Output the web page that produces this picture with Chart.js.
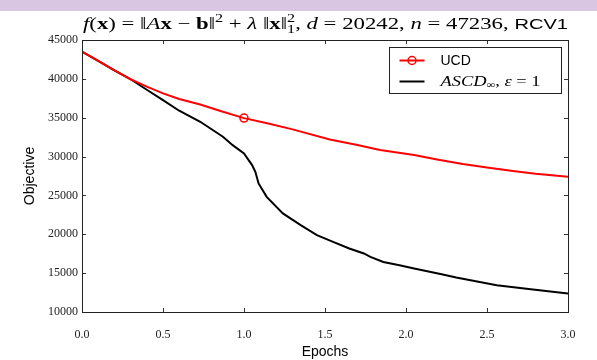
<!DOCTYPE html>
<html>
<head>
<meta charset="utf-8">
<script src="https://cdn.jsdelivr.net/npm/chart.js@4.4.1/dist/chart.umd.min.js"></script>
<style>
  html, body { margin: 0; padding: 0; background: #fff; }
  #wrap { width: 597px; height: 360px; position: relative; }
</style>
</head>
<body>
<div id="wrap"><canvas id="chart"></canvas></div>
<script>
'use strict';

// UCD run
const ucdEpochs = [0, 0.1, 0.2, 0.3, 0.4, 0.5, 0.6, 0.73, 0.85, 1.0, 1.15, 1.3, 1.53, 1.7, 1.84,
    2.05, 2.2, 2.35, 2.5, 2.66, 2.8, 3.0];
const ucdObjective = [43500, 42300, 41100, 39950, 39000, 38130, 37400, 36700, 35900, 34950, 34250,
    33500, 32200, 31500, 30850, 30200, 29600, 29050, 28600, 28150, 27800, 27400];
const ucdMarkerEpoch = 1.0;

// ASCD run
const ascdEpochs = [0, 0.1, 0.2, 0.3, 0.4, 0.5, 0.6, 0.73, 0.87, 0.93, 1.0, 1.05, 1.07, 1.09, 1.14,
    1.24, 1.35, 1.45, 1.55, 1.65, 1.74, 1.78, 1.86, 1.96, 2.05, 2.22, 2.31, 2.56, 2.77, 3.0];
const ascdObjective = [43500, 42300, 41100, 39950, 38600, 37270, 35900, 34480, 32550, 31470, 30400,
    28900, 28040, 26540, 24820, 22680, 21170, 19880, 19020, 18170, 17530, 17090, 16440, 16020,
    15600, 14860, 14430, 13440, 12930, 12370];

const xTicks = [0, 0.5, 1.0, 1.5, 2.0, 2.5, 3.0];
const yTicks = [10000, 15000, 20000, 25000, 30000, 35000, 40000, 45000];

function serif(style, size) {
    return style + ' ' + size + 'px "Liberation Serif", "DejaVu Serif", serif';
}

function title_segments(size) {
    const rm = serif('', size), it = serif('italic', size), bf = serif('bold', size);
    const sm = serif('', Math.round(size * 0.7));
    const up = -size * 0.42, down = size * 0.25;
    return [
        {t: 'f', font: it}, {t: '(', font: rm}, {t: 'x', font: bf}, {t: ') = \u2016', font: rm},
        {t: 'A', font: it}, {t: 'x', font: bf}, {t: ' \u2212 ', font: rm}, {t: 'b', font: bf},
        {t: '\u2016', font: rm}, {t: '2', font: sm, dy: up}, {t: ' + ', font: rm},
        {t: '\u03bb', font: it}, {t: ' \u2016', font: rm}, {t: 'x', font: bf}, {t: '\u2016', font: rm},
        {stack: [{t: '2', font: sm, dy: up}, {t: '1', font: sm, dy: down}]},
        {t: ', ', font: rm}, {t: 'd', font: it}, {t: ' = 20242, ', font: rm},
        {t: 'n', font: it}, {t: ' = 47236, ', font: rm},
        {t: 'RCV1', font: (size - 2) + 'px "Liberation Sans", Arial, sans-serif'},
    ];
}

function legend_segments(i) {
    if (i === 0) {
        return [{t: 'UCD', font: '14px "Liberation Sans", Arial, sans-serif'}];
    }
    return [
        {t: 'ASCD', font: serif('italic', 15)}, {t: '\u221e', font: serif('', 10), dy: 3},
        {t: ', ', font: serif('', 15)}, {t: '\u03b5', font: serif('italic', 15)},
        {t: ' = 1', font: serif('', 15)},
    ];
}

function seg_width(ctx, s) {
    if (s.stack) {
        return Math.max(...s.stack.map((p) => seg_width(ctx, p)));
    }
    ctx.font = s.font;
    return ctx.measureText(s.t).width;
}

function rich_width(ctx, segs) {
    return segs.reduce((w, s) => w + seg_width(ctx, s), 0);
}

// draws segments starting at x, stretched horizontally to the given width
function draw_rich(ctx, segs, x, y, width) {
    const natural = rich_width(ctx, segs);
    const sx = width ? width / natural : 1;
    ctx.save();
    ctx.translate(x, y);
    ctx.scale(sx, 1);
    let cx = 0;
    segs.forEach((s) => {
        const parts = s.stack ? s.stack : [s];
        parts.forEach((p) => {
            ctx.font = p.font;
            ctx.fillText(p.t, cx, p.dy || 0);
        });
        cx += seg_width(ctx, s);
    });
    ctx.restore();
}

const framePlugin = {
    id: 'frame',
    beforeDraw(chart) {
        const ctx = chart.ctx;
        ctx.save();
        ctx.fillStyle = '#ffffff';
        ctx.fillRect(0, 0, chart.width, chart.height);
        ctx.fillStyle = '#d9c6e3';
        ctx.fillRect(0, 0, chart.width, 11);
        ctx.restore();
    },
    afterDraw(chart) {
        const ctx = chart.ctx;
        const a = chart.chartArea;
        const xs = chart.scales.x, ys = chart.scales.y;
        ctx.save();
        // ticks pointing inwards, all four sides
        ctx.strokeStyle = '#333';
        ctx.lineWidth = 1;
        ctx.beginPath();
        xTicks.forEach((t) => {
            const px = Math.round(xs.getPixelForValue(t)) + 0.5;
            ctx.moveTo(px, a.bottom); ctx.lineTo(px, a.bottom - 4);
            ctx.moveTo(px, a.top); ctx.lineTo(px, a.top + 4);
        });
        yTicks.forEach((t) => {
            const py = Math.round(ys.getPixelForValue(t)) + 0.5;
            ctx.moveTo(a.left, py); ctx.lineTo(a.left + 4, py);
            ctx.moveTo(a.right, py); ctx.lineTo(a.right - 4, py);
        });
        ctx.stroke();
        ctx.strokeStyle = '#222';
        ctx.strokeRect(Math.round(a.left) + 0.5, Math.round(a.top) + 0.5,
            Math.round(a.right - a.left), Math.round(a.bottom - a.top));

        // title
        ctx.fillStyle = '#000';
        ctx.textBaseline = 'alphabetic';
        ctx.textAlign = 'left';
        draw_rich(ctx, title_segments(17), a.left + 1, 29, a.right - a.left - 1);

        // legend box
        const bx = Math.round(a.right) - 178.5, by = Math.round(a.top) + 7.5;
        ctx.fillStyle = '#fff';
        ctx.fillRect(bx, by, 172, 46);
        ctx.strokeStyle = '#222';
        ctx.lineWidth = 1;
        ctx.strokeRect(bx, by, 172, 46);
        chart.data.datasets.forEach((ds, i) => {
            const ly = by + 13 + i * 21;
            ctx.strokeStyle = ds.borderColor;
            ctx.lineWidth = 2;
            ctx.beginPath();
            ctx.moveTo(bx + 10, ly); ctx.lineTo(bx + 35, ly);
            ctx.stroke();
            if (ds.legendMarker) {
                ctx.beginPath();
                ctx.arc(bx + 22.5, ly, 4, 0, Math.PI * 2);
                ctx.lineWidth = 1.5;
                ctx.stroke();
            }
            ctx.fillStyle = '#000';
            ctx.textBaseline = 'middle';
            draw_rich(ctx, legend_segments(i), bx + 51, ly + 1, i === 0 ? 0 : 100);
        });
        ctx.restore();
    }
};

const tickFont = {family: '"Liberation Serif", "DejaVu Serif", serif', size: 12};
const labelFont = {family: '"Liberation Sans", Arial, sans-serif', size: 14};

new Chart(document.getElementById('chart').getContext('2d'), {
    type: 'line',
    data: {
        datasets: [{
            label: 'UCD',
            data: ucdEpochs.map((e, i) => ({x: e, y: ucdObjective[i]})),
            borderColor: '#ff0000',
            borderWidth: 2,
            pointRadius: ucdEpochs.map((e) => (e === ucdMarkerEpoch ? 4 : 0)),
            pointBorderWidth: 1.5,
            pointBorderColor: '#ff0000',
            pointBackgroundColor: 'rgba(0,0,0,0)',
            legendMarker: true,
            tension: 0,
        }, {
            label: 'ASCD\u221e, \u03b5 = 1',
            data: ascdEpochs.map((e, i) => ({x: e, y: ascdObjective[i]})),
            borderColor: '#000000',
            borderWidth: 2,
            pointRadius: 0,
            tension: 0,
        }]
    },
    options: {
        responsive: true,
        maintainAspectRatio: false,
        animation: false,
        layout: {padding: {top: 40, right: 29, left: 0, bottom: 0}},
        plugins: {
            legend: {display: false},
            tooltip: {enabled: false},
        },
        scales: {
            x: {
                type: 'linear',
                min: 0,
                max: 3,
                grid: {display: false, drawTicks: false},
                border: {display: false},
                ticks: {
                    stepSize: 0.5,
                    font: tickFont,
                    color: '#222',
                    padding: 16,
                    maxRotation: 0,
                    callback: (v) => v.toFixed(1),
                },
                title: {display: true, text: 'Epochs', font: labelFont, color: '#000',
                    padding: {top: 0, bottom: -1}},
                afterFit: (scale) => { scale.height = 48; },
            },
            y: {
                min: 10000,
                max: 45000,
                grid: {display: false, drawTicks: false},
                border: {display: false},
                ticks: {
                    stepSize: 5000,
                    font: tickFont,
                    color: '#222',
                    padding: 4,
                    callback: (v) => String(v),
                },
                title: {display: true, text: 'Objective', font: labelFont, color: '#000',
                    padding: {top: 22, bottom: 0}},
                afterFit: (scale) => { scale.width = 82; },
            }
        }
    },
    plugins: [framePlugin]
});
</script>
</body>
</html>
